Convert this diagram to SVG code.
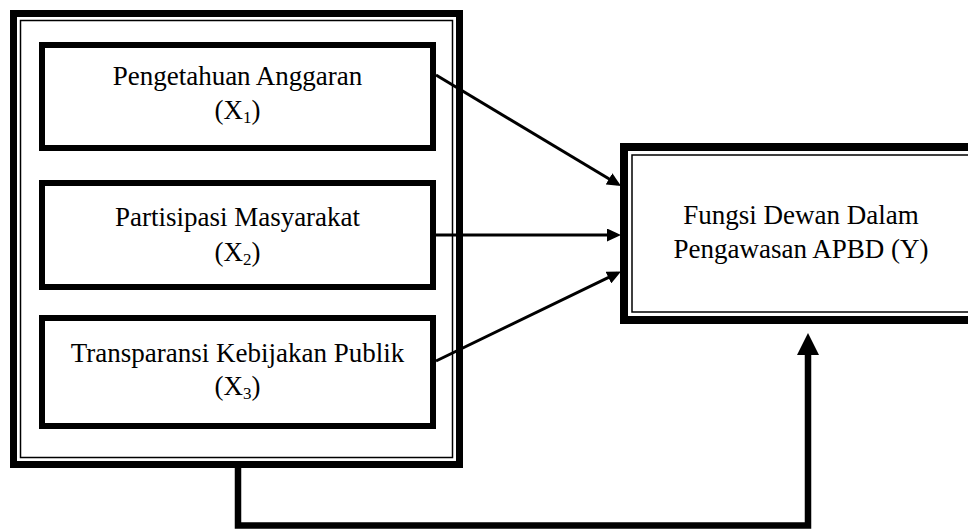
<svg xmlns="http://www.w3.org/2000/svg" width="968" height="529" viewBox="0 0 968 529">
<defs>
<style>
.thick{fill:none;stroke:#000;}
.thin{fill:none;stroke:#000;stroke-width:1.5;}
.lbl{font-family:"Liberation Serif","Times New Roman",serif;font-size:27px;fill:#000;text-anchor:middle;}
.sub{font-size:17px;}
.conn{fill:none;stroke:#000;stroke-width:3;}
</style>
<marker id="ah" markerUnits="userSpaceOnUse" markerWidth="14" markerHeight="13" refX="10" refY="6.5" orient="auto">
<path d="M0,0 L14,6.5 L0,13 z" fill="#000"/>
</marker>
</defs>
<rect width="968" height="529" fill="#fff"/>
<g id="group-X">
<rect class="thick" x="13.5" y="13.5" width="446" height="451" stroke-width="7"/>
<rect class="thin" x="20.5" y="20.5" width="432" height="437"/>
</g>
<g id="node-X1">
<rect class="thick" x="42" y="45" width="391" height="103" stroke-width="6"/>
<text class="lbl" x="237.5" y="85">Pengetahuan Anggaran</text>
<text class="lbl" x="237.5" y="119">(X<tspan class="sub" dy="4">1</tspan><tspan dy="-4">)</tspan></text>
</g>
<g id="node-X2">
<rect class="thick" x="42" y="183" width="391" height="104" stroke-width="6"/>
<text class="lbl" x="237.5" y="226">Partisipasi Masyarakat</text>
<text class="lbl" x="237.5" y="261">(X<tspan class="sub" dy="4">2</tspan><tspan dy="-4">)</tspan></text>
</g>
<g id="node-X3">
<rect class="thick" x="42" y="318" width="391" height="108" stroke-width="6"/>
<text class="lbl" x="237.5" y="362">Transparansi Kebijakan Publik</text>
<text class="lbl" x="237.5" y="395">(X<tspan class="sub" dy="4">3</tspan><tspan dy="-4">)</tspan></text>
</g>
<g id="node-Y">
<rect class="thick" x="624" y="147" width="400" height="173" stroke-width="8"/>
<rect class="thin" x="632" y="155" width="380" height="157"/>
<text class="lbl" x="801" y="224">Fungsi Dewan Dalam</text>
<text class="lbl" x="801" y="258">Pengawasan APBD (Y)</text>
</g>
<g id="connectors">
<line class="conn" x1="436" y1="75" x2="617.6" y2="184" marker-end="url(#ah)"/>
<line class="conn" x1="436" y1="235" x2="617" y2="235" marker-end="url(#ah)"/>
<line class="conn" x1="436" y1="361" x2="617.4" y2="273.2" marker-end="url(#ah)"/>
<path d="M238,468 V525.5 H808 V352" fill="none" stroke="#000" stroke-width="6.5"/>
<polygon points="797,355 819,355 808,333" fill="#000"/>
</g>
</svg>
